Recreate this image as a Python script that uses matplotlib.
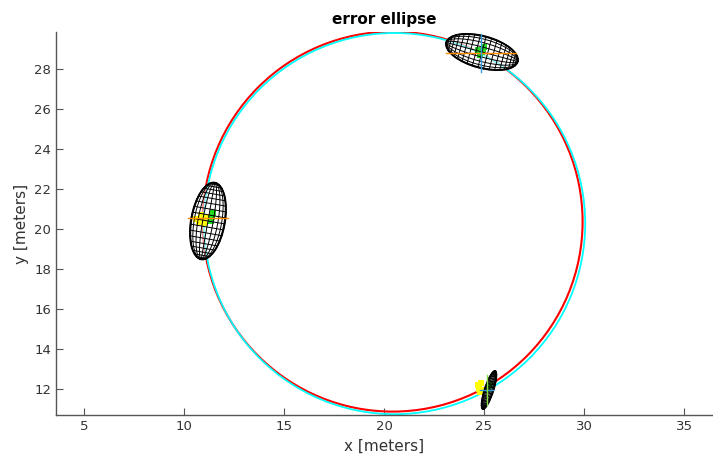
import numpy as np
import matplotlib
matplotlib.use('Agg')
import matplotlib.pyplot as plt
from matplotlib.patches import Ellipse, Circle

# reference and estimated circles
red_center = (20.43, 20.37)
red_radius = 9.5
cyan_center = (20.53, 20.27)
cyan_radius = 9.53

# error ellipses: centre, semi-major, semi-minor, angle of major axis (deg)
ell_x = [11.2, 24.9, 25.25]
ell_y = [20.4, 28.85, 11.95]
ell_a = [1.95, 1.85, 1.0]
ell_b = [0.85, 0.8, 0.22]
ell_ang = [80, -15, 72]

# particle clouds near each estimate
yellow_x = [10.6, 10.75, 10.9, 11.1, 10.85, 11.0, 24.7, 24.75, 24.8, 24.85, 24.9]
yellow_y = [20.5, 20.35, 20.45, 20.6, 20.7, 20.3, 12.2, 12.0, 11.85, 12.3, 11.95]
green_x = [11.4, 11.35, 11.45, 24.7, 24.9, 25.0, 24.8, 24.95, 25.2, 25.3]
green_y = [20.6, 20.4, 20.8, 28.95, 28.85, 29.1, 28.7, 29.0, 12.0, 12.2]

# crosshair segments (x0, x1, y0, y1)
orange_segs = [(10.2, 12.2, 20.55, 20.55), (23.1, 26.6, 28.8, 28.8)]
blue_segs = [(24.85, 24.85, 27.85, 29.75), (24.8, 25.45, 11.95, 11.95)]
lime_segs = [(25.15, 25.15, 11.2, 12.7)]


def draw_mesh(ax, cx, cy, a, b, ang, n=20):
    t = np.deg2rad(ang)
    c, s = np.cos(t), np.sin(t)

    def tr(u, v):
        return cx + u * c - v * s, cy + u * s + v * c

    ax.add_patch(Ellipse((cx, cy), 2 * a, 2 * b, angle=ang, facecolor='white',
                         edgecolor='none', alpha=0.55, zorder=3))
    phi = np.linspace(0, np.pi, 60)
    # meridians
    for th in np.linspace(0, np.pi, n // 2 + 1):
        u = a * np.cos(phi)
        v = b * np.sin(phi) * np.cos(th)
        x, y = tr(u, v)
        ax.plot(x, y, color='k', lw=0.7, zorder=5)
    # latitude segments
    for p in np.linspace(0, np.pi, n + 1)[1:-1]:
        u = np.array([a * np.cos(p)] * 2)
        v = np.array([-b * np.sin(p), b * np.sin(p)])
        x, y = tr(u, v)
        ax.plot(x, y, color='k', lw=0.7, zorder=5)
    # outline
    ax.add_patch(Ellipse((cx, cy), 2 * a, 2 * b, angle=ang, fill=False,
                         edgecolor='k', lw=1.2, zorder=6))


fig = plt.figure(figsize=(7.13, 4.61), dpi=100)
ax = fig.add_axes([0.0785, 0.0998, 0.9215, 0.8308])

ax.add_patch(Circle(red_center, red_radius, fill=False, edgecolor='#FF0000', lw=1.5, zorder=2))
ax.add_patch(Circle(cyan_center, cyan_radius, fill=False, edgecolor='#00FFFF', lw=1.3, zorder=2))

for i in range(len(ell_x)):
    draw_mesh(ax, ell_x[i], ell_y[i], ell_a[i], ell_b[i], ell_ang[i])

ax.scatter(yellow_x, yellow_y, marker='s', s=22, color='#FFFF00', edgecolors='none', zorder=4)
ax.scatter(green_x, green_y, marker='s', s=22, color='#22DD22', edgecolors='none', zorder=4)

for x0, x1, y0, y1 in orange_segs:
    ax.plot([x0, x1], [y0, y1], color='#FF8C00', lw=1.0, zorder=7)
for x0, x1, y0, y1 in blue_segs:
    ax.plot([x0, x1], [y0, y1], color='#3399DD', lw=1.0, zorder=7)
for x0, x1, y0, y1 in lime_segs:
    ax.plot([x0, x1], [y0, y1], color='#88DD44', lw=1.0, zorder=7)

ax.set_xlim(3.6, 36.45)
ax.set_ylim(10.7, 29.85)
ax.set_xticks([5, 10, 15, 20, 25, 30, 35])
ax.set_yticks([12, 14, 16, 18, 20, 22, 24, 26, 28])
ax.spines['top'].set_visible(False)
ax.spines['right'].set_visible(False)
for sp in ('left', 'bottom'):
    ax.spines[sp].set_color('#555555')
    ax.spines[sp].set_linewidth(1.0)
ax.tick_params(direction='in', length=5, color='#555555', labelcolor='#333333', labelsize=9.5)
ax.set_xlabel('x [meters]', fontsize=11, color='#333333')
ax.set_ylabel('y [meters]', fontsize=11, color='#333333')
ax.set_title('error ellipse', fontsize=11, fontweight='bold', pad=6)

fig.savefig('out.png', dpi=100)
